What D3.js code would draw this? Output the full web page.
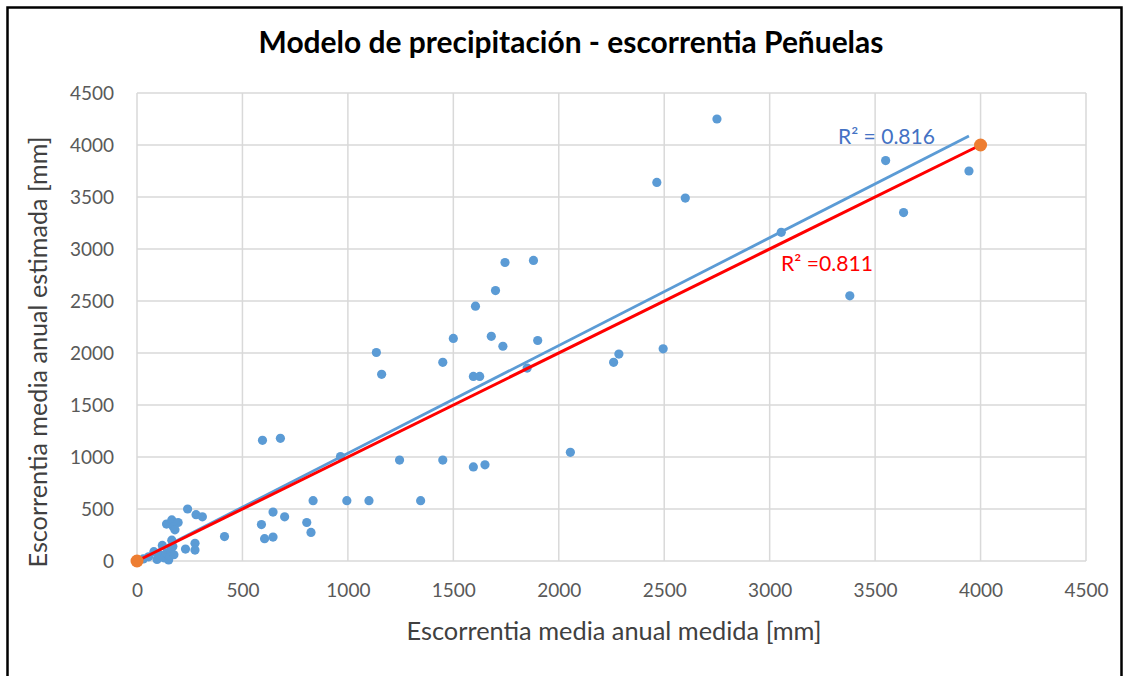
<!DOCTYPE html>
<html><head><meta charset="utf-8">
<script src="https://cdn.jsdelivr.net/npm/d3@7"></script>
<style>body{margin:0;background:#fff} svg{display:block}</style>
</head><body><svg id="c" width="1127" height="676"></svg>
<script>
// ---- data ----
const chartTitle = "Modelo de precipitación - escorrentia Peñuelas";
const xAxisTitle = "Escorrentia media anual medida [mm]";
const yAxisTitle = "Escorrentia media anual estimada [mm]";
const xTicks = [0,500,1000,1500,2000,2500,3000,3500,4000,4500];
const yTicks = [0,500,1000,1500,2000,2500,3000,3500,4000,4500];
const measured = [30,55,80,95,110,120,130,140,150,155,160,165,170,175,140,165,195,172,180,240,280,310,230,275,275,415,
  590,605,645,645,700,805,825,835,995,1100,1345,595,680,965,1245,1450,1595,1650,2055,
  1135,1160,1450,1595,1625,1850,2260,2285,2495,1500,1680,1735,1900,1605,1700,1745,1880,
  2465,2600,2750,3055,3380,3550,3635,3945];
const estimated = [20,40,90,15,60,150,30,75,10,45,110,200,140,60,355,395,370,330,300,500,445,425,115,170,105,235,
  350,215,230,470,425,370,275,580,580,580,580,1160,1180,1005,970,970,905,925,1045,
  2005,1795,1910,1775,1775,1855,1910,1990,2040,2140,2160,2065,2120,2450,2600,2870,2890,
  3640,3490,4250,3160,2550,3850,3350,3750];
const refX = [0,4000];
const refY = [0,4000];
const trendSlope = 1.036, trendIntercept = 0;
const trendLabel = "R² = 0.816";
const refLabel = "R² =0.811";

// ---- drawing ----
const svg = d3.select("#c");
const FONT = "Lato, 'Open Sans', sans-serif";
const x = d3.scaleLinear().domain([0,4500]).range([137,1086]);
const y = d3.scaleLinear().domain([0,4500]).range([561,93]);

function fit(sel, target){
  sel.style("font-size","20px");
  const w = sel.node().getComputedTextLength();
  sel.style("font-size", (20*target/w).toFixed(2)+"px");
}

// border
svg.append("path").attr("d","M7.5,676 V7.5 H1121.5 V676").attr("fill","none").attr("stroke","#000").attr("stroke-width",2.5);

// gridlines
const g = svg.append("g");
g.selectAll(".vx").data(xTicks).join("line")
  .attr("x1",d=>x(d)).attr("x2",d=>x(d)).attr("y1",y(4500)).attr("y2",y(0))
  .attr("stroke","#D9D9D9").attr("stroke-width",1.5);
g.selectAll(".hy").data(yTicks).join("line")
  .attr("y1",d=>y(d)).attr("y2",d=>y(d)).attr("x1",x(0)).attr("x2",x(4500))
  .attr("stroke","#D9D9D9").attr("stroke-width",1.5);

// axes labels
const TICKFS = "19px";
const xa = svg.append("g").attr("transform","translate(0,561)")
  .call(d3.axisBottom(x).tickValues(xTicks).tickSize(0).tickPadding(23).tickFormat(d3.format("d")));
xa.select(".domain").remove();
xa.selectAll("text").attr("fill","#595959").style("font-family",FONT).style("font-size",TICKFS);
const ya = svg.append("g").attr("transform","translate(137,0)")
  .call(d3.axisLeft(y).tickValues(yTicks).tickSize(0).tickPadding(23).tickFormat(d3.format("d")));
ya.select(".domain").remove();
ya.selectAll("text").attr("fill","#595959").style("font-family",FONT).style("font-size",TICKFS);

// points
svg.append("g").selectAll("circle").data(measured.map((v,i)=>[v,estimated[i]])).join("circle")
  .attr("cx",d=>x(d[0])).attr("cy",d=>y(d[1])).attr("r",4.6).attr("fill","#5B9BD5");

// trend line (blue)
const xmin = d3.min(measured), xmax = d3.max(measured);
svg.append("line").attr("x1",x(xmin)).attr("y1",y(trendSlope*xmin+trendIntercept))
  .attr("x2",x(xmax)).attr("y2",y(trendSlope*xmax+trendIntercept))
  .attr("stroke","#5B9BD5").attr("stroke-width",2.8);

// reference points & line
svg.append("line").attr("x1",x(refX[0])).attr("y1",y(refY[0])).attr("x2",x(refX[1])).attr("y2",y(refY[1]))
  .attr("stroke","#FF0000").attr("stroke-width",3);
svg.append("g").selectAll("circle").data(refX.map((v,i)=>[v,refY[i]])).join("circle")
  .attr("cx",d=>x(d[0])).attr("cy",d=>y(d[1])).attr("r",6.5).attr("fill","#ED7D31");

// R2 labels
const l1 = svg.append("text").attr("x",838).attr("y",144).attr("fill","#4472C4")
  .style("font-family",FONT).text(trendLabel);
fit(l1, 97);
const l2 = svg.append("text").attr("x",781).attr("y",271).attr("fill","#FF0000")
  .style("font-family",FONT).text(refLabel);
fit(l2, 92);

// titles
const t = svg.append("text").attr("x",571).attr("y",53).attr("text-anchor","middle")
  .style("font-family",FONT).style("font-weight","bold").attr("fill","#000").text(chartTitle);
fit(t, 625);
const xt = svg.append("text").attr("x",614).attr("y",640).attr("text-anchor","middle")
  .style("font-family",FONT).attr("fill","#404040").text(xAxisTitle);
fit(xt, 415);
const yt = svg.append("text").attr("transform","translate(47,352) rotate(-90)").attr("text-anchor","middle")
  .style("font-family",FONT).attr("fill","#404040").text(yAxisTitle);
fit(yt, 431);
</script></body></html>
